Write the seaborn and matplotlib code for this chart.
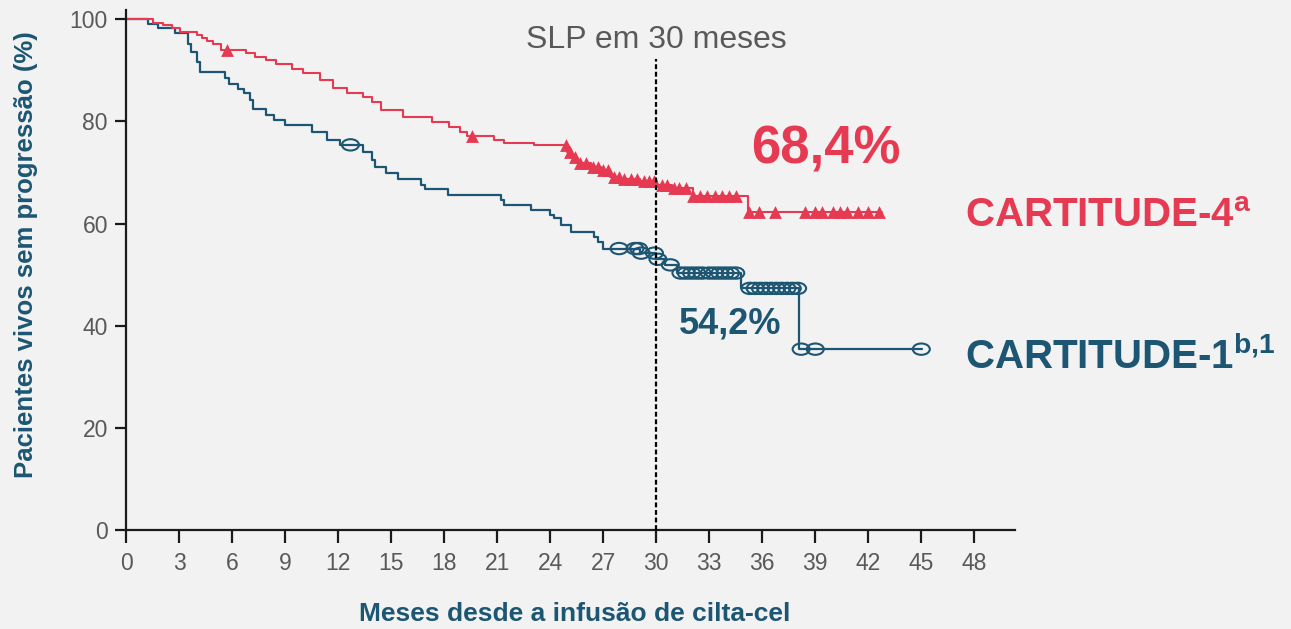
import numpy as np
import pandas as pd
import seaborn as sns
import matplotlib.pyplot as plt
from matplotlib.path import Path
from matplotlib.transforms import Affine2D

# CARTITUDE-4 (curva vermelha): inicio de cada degrau e valor
red_t = [0, 1.5, 2.1, 2.6, 3.05, 4.0, 4.3, 4.6, 4.9, 5.4, 6.8, 7.3, 7.9, 8.5, 9.4,
         10.0, 11.0, 11.7, 12.5, 13.4, 13.9, 14.4, 15.7, 17.3, 18.3, 18.9, 19.3,
         20.8, 21.4, 23.1, 24.95, 25.2, 25.5, 26.3, 26.9, 27.4, 28.0, 29.1, 30.05,
         30.9, 32.1, 35.2, 42.8]
red_s = [100, 99.3, 98.8, 98.2, 97.5, 97.0, 96.4, 95.8, 95.2, 93.9, 93.3, 92.6, 92.0,
         91.3, 90.3, 89.5, 88.1, 86.6, 85.6, 84.8, 83.8, 82.3, 80.9, 79.9, 78.9, 78.0,
         77.1, 76.4, 75.8, 75.3, 74.0, 73.1, 71.8, 71.1, 70.5, 69.1, 68.8, 68.4, 67.5,
         66.9, 65.3, 62.2, 62.2]
red_cens = [5.7, 19.6, 24.9, 25.1, 25.4, 25.7, 26.0, 26.4, 26.7, 27.0, 27.3, 27.6, 27.9,
            28.2, 28.6, 28.9, 29.3, 29.6, 29.9, 30.3, 30.6, 31.0, 31.3, 31.7, 32.1,
            32.5, 32.9, 33.3, 33.7, 34.1, 34.5, 35.25, 35.8, 36.7, 38.4, 39.0, 39.4,
            40.0, 40.4, 40.8, 41.4, 42.0, 42.6]

# CARTITUDE-1 (curva azul)
blue_t = [0, 1.25, 1.8, 2.8, 3.5, 3.7, 4.0, 4.2, 5.6, 5.8, 6.35, 6.7, 7.0, 7.2, 7.9,
          8.4, 9.0, 10.5, 11.4, 12.1, 13.4, 13.9, 14.1, 14.7, 15.4, 16.7, 16.9, 18.2,
          21.2, 21.4, 22.9, 24.0, 24.2, 24.6, 25.2, 26.5, 26.7, 27.0, 29.1, 30.0,
          30.5, 31.2, 34.8, 38.1, 45.05]
blue_s = [100, 99.0, 98.2, 97.2, 95.2, 93.6, 91.6, 89.7, 88.4, 87.4, 86.4, 85.5, 84.1,
          82.5, 81.2, 80.2, 79.3, 78.0, 76.3, 75.4, 74.0, 72.4, 71.1, 69.8, 68.8, 67.5,
          66.7, 65.6, 64.6, 63.6, 62.6, 61.6, 61.0, 59.7, 58.4, 57.4, 56.4, 55.1, 54.2,
          53.0, 51.9, 50.3, 47.3, 35.4, 35.4]
blue_cens = [12.7, 27.9, 28.8, 29.0, 29.15, 29.9, 30.1, 30.8, 31.4, 31.7, 32.0, 32.3,
             32.6, 33.0, 33.3, 33.6, 33.9, 34.2, 34.5, 35.3, 35.6, 35.9, 36.2, 36.5,
             36.8, 37.1, 37.4, 37.7, 38.0, 38.2, 39.0, 45.0]

x_ticks = list(range(0, 49, 3))
y_ticks = [0, 20, 40, 60, 80, 100]
landmark = 30
red_pct = '68,4%'
blue_pct = '54,2%'

RED = '#e63a52'
BLUE = '#1c5673'
GRAY = '#595959'
BG = '#f2f2f2'


def value_at(t, s, times):
    idx = np.searchsorted(np.asarray(t), np.asarray(times), side='right') - 1
    return np.asarray(s)[idx]


red = pd.DataFrame({'t': red_t, 's': red_s})
blue = pd.DataFrame({'t': blue_t, 's': blue_s})
red_c = pd.DataFrame({'t': red_cens, 's': value_at(red_t, red_s, red_cens)})
blue_c = pd.DataFrame({'t': blue_cens, 's': value_at(blue_t, blue_s, blue_cens)})

sns.set_theme(style='ticks')
plt.rcParams['font.family'] = ['Liberation Sans', 'DejaVu Sans']
plt.rcParams['mathtext.fontset'] = 'custom'
plt.rcParams['mathtext.rm'] = 'Liberation Sans:bold'
plt.rcParams['mathtext.bf'] = 'Liberation Sans:bold'

fig = plt.figure(figsize=(12.91, 6.29), dpi=100, facecolor=BG)
ax = fig.add_axes([0.0976, 0.1574, 0.6886, 0.8267])
ax.set_facecolor(BG)

# curvas em degraus
sns.lineplot(data=blue, x='t', y='s', ax=ax, color=BLUE, lw=1.6,
             drawstyle='steps-post', estimator=None, sort=False)
sns.lineplot(data=red, x='t', y='s', ax=ax, color=RED, lw=1.5,
             drawstyle='steps-post', estimator=None, sort=False)

# censuras
ellipse = Path.unit_circle().transformed(Affine2D().scale(1.5, 1.0))
sns.scatterplot(data=blue_c, x='t', y='s', ax=ax, marker=ellipse, s=150,
                color=BLUE, facecolor='none', edgecolor=BLUE, linewidth=1.5, zorder=3)
sns.scatterplot(data=red_c, x='t', y='s', ax=ax, marker='^', s=85,
                color=RED, edgecolor=RED, linewidth=0, zorder=4)

ax.axvline(landmark, ymin=0, ymax=0.905, color='black', lw=1.6,
           linestyle=(0, (2.2, 1.2)), zorder=5)

ax.set_xlim(0, 50.3)
ax.set_ylim(0, 101.8)
ax.set_xticks(x_ticks)
ax.set_yticks(y_ticks)
sns.despine(ax=ax)
for sp in ['left', 'bottom']:
    ax.spines[sp].set_color('#1a1a1a')
    ax.spines[sp].set_linewidth(1.6)
ax.tick_params(axis='x', length=9, width=1.6, color='#1a1a1a', labelsize=16.5,
               labelcolor=GRAY, pad=7)
ax.tick_params(axis='y', length=8, width=1.6, color='#1a1a1a', labelsize=16.5,
               labelcolor=GRAY, pad=5)

ax.set_xlabel('Meses desde a infusão de cilta-cel', fontsize=19,
              fontweight='bold', color=BLUE)
ax.set_ylabel('Pacientes vivos sem progressão (%)', fontsize=18.5,
              fontweight='bold', color=BLUE)
ax.xaxis.set_label_coords(0.505, -0.138)
ax.yaxis.set_label_coords(-0.099, 0.53)

ax.text(landmark, 95.9, f'SLP em {landmark} meses', ha='center', va='center',
        fontsize=23, color=GRAY)
ax.text(39.6, 74.5, red_pct, ha='center', va='center', fontsize=38,
        fontweight='bold', color=RED)
ax.text(34.2, 40.3, blue_pct, ha='center', va='center', fontsize=26,
        fontweight='bold', color=BLUE)
ax.text(47.5, 61.4, 'CARTITUDE-4$^{\\mathbf{a}}$', ha='left', va='center',
        fontsize=29, fontweight='bold', color=RED, clip_on=False)
ax.text(47.5, 34.0, 'CARTITUDE-1$^{\\mathbf{b{,}1}}$', ha='left', va='center',
        fontsize=29, fontweight='bold', color=BLUE, clip_on=False)

fig.savefig('out.png', dpi=100, facecolor=BG)
